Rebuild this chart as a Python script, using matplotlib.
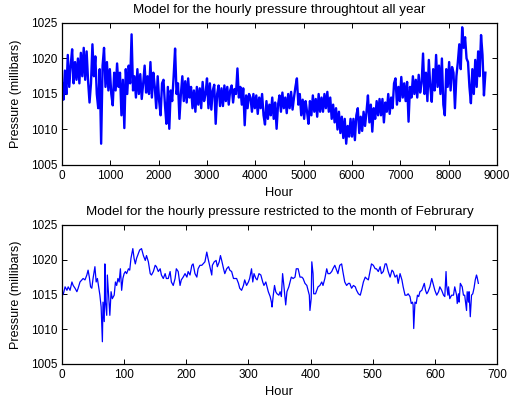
import numpy as np
import matplotlib
matplotlib.use("Agg")
import matplotlib.pyplot as plt

plt.rcParams['font.family'] = ['Liberation Sans', 'DejaVu Sans']

# ---- whole year, sampled every 30 hours (millibars) ----
year_hours = np.arange(0, 8761, 30)
year_pressure = [
    1016.5, 1014.2, 1018.3, 1015.0, 1020.5, 1016.0, 1019.0, 1021.3, 1016.5, 1019.5,
    1017.0, 1020.0, 1016.5, 1020.8, 1017.5, 1021.5, 1017.0, 1021.0, 1016.8, 1013.8,
    1016.5, 1022.0, 1017.5, 1020.3, 1015.0, 1013.0, 1018.5, 1008.0, 1019.0, 1021.5,
    1016.0, 1019.5, 1015.5, 1018.5, 1015.0, 1013.4, 1018.0, 1015.5, 1019.3, 1016.0,
    1018.0, 1012.0, 1017.0, 1010.2, 1018.5, 1015.0, 1019.0, 1016.5, 1023.4, 1015.5,
    1017.5, 1014.5, 1018.5, 1015.0, 1017.8, 1014.3, 1016.5, 1019.0, 1015.2, 1017.5,
    1015.0, 1019.5, 1014.5, 1018.0, 1016.0, 1013.0, 1017.5, 1014.0, 1012.0, 1016.5,
    1017.0, 1013.5, 1010.8, 1016.0, 1010.1, 1015.5, 1014.0, 1017.5, 1021.4, 1015.0,
    1016.5, 1011.5, 1015.0, 1017.5, 1014.0, 1016.8, 1013.8, 1017.2, 1014.5, 1016.0,
    1013.0, 1015.5, 1012.5, 1016.0, 1013.5, 1015.8, 1013.0, 1016.7, 1014.0, 1015.0,
    1017.2, 1013.0, 1016.5, 1012.8, 1015.5, 1016.3, 1010.8, 1015.0, 1016.2, 1013.3,
    1015.8, 1013.3, 1016.2, 1014.0, 1016.0, 1013.5, 1015.5, 1016.2, 1013.8, 1015.7,
    1015.0, 1018.6, 1014.5, 1016.0, 1013.5, 1015.8, 1010.6, 1014.8, 1013.0, 1015.0,
    1014.5, 1012.5, 1015.0, 1013.0, 1014.8, 1012.2, 1014.5, 1013.0, 1015.0, 1012.0,
    1010.7, 1014.0, 1011.5, 1013.5, 1012.0, 1014.5, 1011.5, 1013.8, 1010.1, 1013.5,
    1014.8, 1012.5, 1015.2, 1013.0, 1014.5, 1012.3, 1015.0, 1013.0, 1015.3, 1012.8,
    1014.5, 1016.0, 1017.2, 1013.5, 1015.0, 1012.0, 1014.2, 1011.5, 1014.0, 1012.5,
    1010.8, 1014.0, 1012.0, 1014.8, 1012.5, 1014.3, 1011.8, 1015.0, 1012.5, 1014.5,
    1012.5, 1015.0, 1013.0, 1015.3, 1012.5, 1014.5, 1011.5, 1013.5, 1011.0, 1013.0,
    1010.0, 1012.5, 1009.5, 1011.8, 1008.8, 1011.5, 1008.0, 1010.5, 1009.0, 1011.5,
    1009.0, 1011.5, 1008.5, 1012.0, 1013.0, 1009.5, 1011.8, 1009.8, 1012.5, 1010.5,
    1012.5, 1014.8, 1011.0, 1013.5, 1009.7, 1013.0, 1011.5, 1014.0, 1012.0, 1014.3,
    1012.0, 1014.3, 1011.0, 1013.8, 1012.5, 1015.0, 1012.2, 1014.5, 1013.0, 1016.5,
    1017.2, 1013.5, 1016.0, 1014.0, 1017.4, 1014.5, 1016.5, 1014.0, 1016.7, 1011.1,
    1016.0, 1014.5, 1017.5, 1015.0, 1017.0, 1014.5, 1017.7, 1015.2, 1016.5, 1020.7,
    1015.0, 1018.0, 1014.0, 1019.8, 1016.0, 1013.9, 1018.5, 1015.5, 1020.5, 1016.0,
    1019.0, 1015.0, 1020.0, 1013.5, 1012.0, 1018.5, 1016.0, 1019.5, 1015.5, 1018.8,
    1018.0, 1013.0, 1017.5, 1019.5, 1022.0, 1018.5, 1024.4, 1021.5, 1023.0, 1020.0,
    1019.5, 1016.0, 1013.7, 1018.5, 1015.0, 1019.8, 1016.0, 1021.0, 1017.5, 1023.3,
    1020.5, 1014.8, 1018.0,
]

# ---- February only ----
feb_hours = [
    0, 2, 5, 8, 10, 13, 16, 18, 21, 24, 26, 29, 32, 34, 37, 40, 42, 44, 46, 48,
    50, 53, 55, 57, 59, 61, 63, 65, 66, 68, 69, 70, 72, 73, 76, 77, 79, 81, 84, 86,
    88, 90, 92, 94, 96, 98, 100, 102, 104, 107, 109, 111, 114, 116, 118, 120, 123, 125, 128, 131,
    134, 136, 139, 142, 144, 147, 150, 152, 155, 158, 160, 163, 166, 168, 171, 174, 176, 179, 182, 184,
    187, 190, 192, 195, 198, 201, 203, 206, 209, 211, 214, 217, 219, 222, 225, 227, 230, 233, 235, 238,
    241, 242, 245, 248, 250, 253, 255, 257, 260, 262, 265, 268, 270, 273, 276, 278, 281, 284, 286, 289,
    292, 294, 297, 300, 302, 305, 307, 309, 312, 314, 317, 320, 323, 325, 328, 330, 332, 335, 337, 338,
    340, 342, 344, 346, 349, 351, 353, 355, 357, 359, 360, 362, 365, 367, 369, 372, 375, 377, 380, 383,
    386, 388, 391, 394, 396, 398, 399, 401, 402, 404, 405, 408, 410, 412, 415, 418, 420, 423, 426, 428,
    431, 434, 436, 439, 442, 444, 447, 450, 452, 455, 458, 461, 463, 466, 469, 472, 474, 477, 480, 482,
    485, 488, 490, 493, 496, 498, 501, 504, 506, 509, 512, 514, 517, 520, 522, 525, 528, 531, 533, 536,
    539, 541, 544, 547, 549, 552, 555, 557, 560, 562, 564, 565, 566, 568, 570, 572, 574, 576, 579, 581,
    583, 585, 587, 589, 592, 595, 598, 600, 603, 606, 608, 611, 614, 616, 618, 619, 621, 622, 624, 627,
    630, 632, 635, 636, 638, 639, 641, 644, 646, 648, 651, 652, 654, 655, 657, 659, 661, 663, 665, 667,
    668, 670,
]
feb_pressure = [
    1014.9, 1015.0, 1016.1, 1015.6, 1016.1, 1015.6, 1016.8, 1016.3, 1015.9, 1015.4,
    1015.9, 1016.8, 1017.1, 1017.3, 1017.1, 1017.8, 1018.5, 1017.5, 1016.1, 1015.9,
    1017.3, 1019.0, 1016.8, 1017.3, 1016.1, 1014.9, 1013.2, 1008.2, 1013.9, 1011.1,
    1019.4, 1013.9, 1012.0, 1017.8, 1013.5, 1012.0, 1015.4, 1014.4, 1014.9, 1016.8,
    1016.3, 1017.3, 1016.8, 1018.7, 1015.6, 1017.3, 1018.0, 1018.3, 1018.0, 1018.7,
    1018.5, 1020.2, 1021.6, 1020.2, 1019.4, 1020.2, 1020.9, 1021.4, 1021.6, 1020.6,
    1019.9, 1020.6, 1019.7, 1018.0, 1017.8, 1018.3, 1019.2, 1019.0, 1018.3, 1018.7,
    1017.8, 1017.3, 1018.0, 1017.3, 1017.3, 1018.3, 1016.8, 1016.3, 1017.3, 1018.7,
    1018.3, 1016.3, 1017.1, 1017.5, 1018.0, 1017.5, 1018.3, 1017.8, 1019.2, 1019.4,
    1018.0, 1017.5, 1018.7, 1019.2, 1019.2, 1019.4, 1019.7, 1021.1, 1020.2, 1019.0,
    1017.8, 1019.2, 1019.7, 1019.9, 1019.0, 1019.7, 1020.6, 1019.9, 1018.7, 1018.0,
    1018.7, 1019.0, 1018.5, 1018.3, 1017.3, 1017.3, 1017.3, 1016.6, 1015.9, 1015.6,
    1016.3, 1017.1, 1016.3, 1016.8, 1017.3, 1018.7, 1016.8, 1018.0, 1017.3, 1017.1,
    1018.0, 1017.8, 1016.8, 1016.3, 1016.8, 1016.1, 1015.4, 1014.7, 1013.9, 1013.2,
    1014.9, 1016.3, 1015.4, 1015.1, 1014.9, 1015.4, 1014.7, 1018.0, 1016.3, 1014.4,
    1013.5, 1015.4, 1016.1, 1016.8, 1017.5, 1017.3, 1017.5, 1018.7, 1018.7, 1017.5,
    1017.5, 1017.3, 1016.6, 1016.3, 1015.6, 1014.9, 1012.7, 1014.4, 1019.7, 1018.0,
    1015.1, 1015.1, 1015.6, 1016.1, 1016.3, 1016.8, 1016.3, 1017.3, 1018.7, 1018.0,
    1018.0, 1018.3, 1018.7, 1019.2, 1018.5, 1018.0, 1019.2, 1019.4, 1018.3, 1016.8,
    1016.3, 1016.6, 1016.6, 1015.9, 1016.3, 1016.1, 1015.6, 1015.1, 1014.9, 1015.6,
    1016.8, 1017.5, 1017.3, 1017.1, 1018.5, 1019.4, 1019.2, 1018.7, 1018.7, 1018.3,
    1019.0, 1018.0, 1018.3, 1019.4, 1019.4, 1018.3, 1017.5, 1018.5, 1018.3, 1017.5,
    1017.8, 1016.6, 1018.0, 1017.1, 1016.1, 1014.9, 1014.9, 1015.1, 1014.7, 1013.7,
    1013.9, 1013.5, 1010.1, 1013.9, 1013.7, 1014.9, 1014.7, 1015.4, 1015.6, 1016.1,
    1016.6, 1015.6, 1015.1, 1015.4, 1016.1, 1017.3, 1016.3, 1015.6, 1014.9, 1015.4,
    1016.1, 1015.6, 1014.9, 1014.7, 1018.3, 1016.3, 1014.9, 1016.1, 1014.4, 1014.9,
    1014.9, 1016.1, 1014.9, 1013.7, 1015.1, 1013.9, 1016.6, 1016.1, 1014.9, 1014.9,
    1012.7, 1015.4, 1013.9, 1015.4, 1011.8, 1014.9, 1015.1, 1015.9, 1017.1, 1017.8,
    1017.5, 1016.6,
]

y_ticks = [1005, 1010, 1015, 1020, 1025]
year_xticks = list(range(0, 9001, 1000))
feb_xticks = list(range(0, 701, 100))

fig = plt.figure(figsize=(5.11, 4.07), dpi=100)
ax1 = fig.add_axes([0.1213, 0.5946, 0.8513, 0.3489])
ax2 = fig.add_axes([0.1213, 0.1057, 0.8513, 0.3415])

panels = [
    (ax1, year_hours, year_pressure, year_xticks, (0, 9000), 1.7,
     "Model for the hourly pressure throughtout all year"),
    (ax2, feb_hours, feb_pressure, feb_xticks, (0, 700), 0.9,
     "Model for the hourly pressure restricted to the month of Februrary"),
]

for ax, x, y, xt, xl, lw, title in panels:
    ax.plot(x, y, color=(0, 0, 1), linewidth=lw)
    ax.set_xlim(*xl)
    ax.set_ylim(1005, 1025)
    ax.set_xticks(xt)
    ax.set_yticks(y_ticks)
    ax.tick_params(direction='in', top=True, right=True, length=3.5,
                   width=0.7, labelsize=8.5, pad=3.5)
    for s in ax.spines.values():
        s.set_linewidth(0.9)
    ax.set_title(title, fontsize=9.6, pad=7)
    ax.set_xlabel("Hour", fontsize=9.3, labelpad=4)
    ax.set_ylabel("Pressure (millibars)", fontsize=9.0, labelpad=6)

fig.savefig("out.png", dpi=100)
